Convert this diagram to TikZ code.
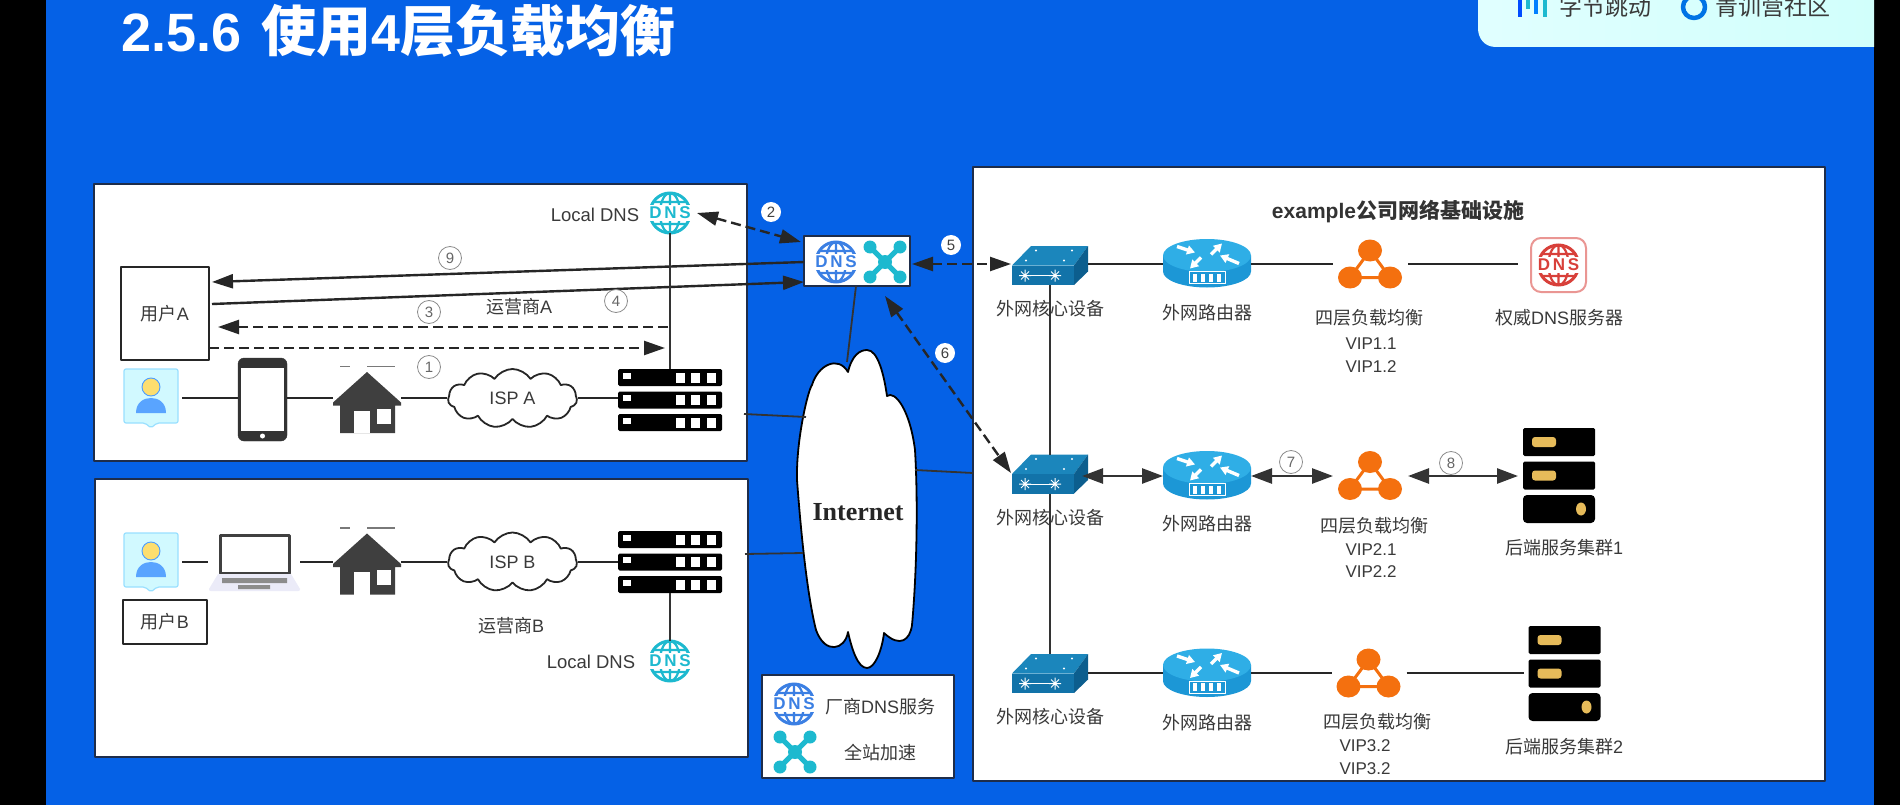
\documentclass[tikz,border=0pt]{standalone}
\usepackage{fontspec}
\setmainfont{Liberation Sans}
\newfontfamily\cjk{Noto Sans CJK SC}
\newfontfamily\serifb{Liberation Serif}
\usetikzlibrary{arrows.meta,shapes.symbols}
\newcommand\cn[1]{{\cjk #1}}
\definecolor{bgblue}{HTML}{0561E6}
\definecolor{frameC}{HTML}{1E2D4A}
\definecolor{labC}{HTML}{3A3A3A}
\definecolor{tealC}{HTML}{1DB9CF}
\definecolor{dnsB}{HTML}{3B7FE3}
\definecolor{redC}{HTML}{D8403A}
\definecolor{orgC}{HTML}{F4700F}
\definecolor{swA}{HTML}{1B86BC}
\definecolor{swB}{HTML}{1273A9}
\definecolor{swC}{HTML}{0C5E8E}
\definecolor{rtA}{HTML}{2FAEE6}
\definecolor{rtB}{HTML}{1C97D6}
\definecolor{houseC}{HTML}{3F3F3F}
\definecolor{pillC}{HTML}{E6BB5A}
\tikzset{
  panel/.style={draw=frameC,line width=2pt,fill=white},
  anch/.style={rectangle,inner sep=0pt,outer sep=0pt},
  lab/.style={text=labC,inner sep=0pt,font=\fontsize{18}{20}\selectfont},
  vip/.style={text=labC,inner sep=0pt,font=\fontsize{17}{20}\selectfont},
  num/.style={circle,draw=black!45,line width=0.8pt,fill=white,inner sep=0pt,minimum size=23pt,text=black!60,font=\fontsize{15}{16}\selectfont},
  numw/.style={circle,fill=white,inner sep=0pt,minimum size=20pt,text=black!75,font=\fontsize{15}{16}\selectfont},
  ubox/.style={draw=black!85,line width=2pt,fill=white,anch,text=labC,font=\fontsize{18}{20}\selectfont},
  link/.style={draw=black!85,line width=2.6pt},
  thin link/.style={draw=black!80,line width=1.8pt},
  dbl/.style={link,{Triangle[length=21pt,width=15pt]}-{Triangle[length=21pt,width=15pt]},draw=black!80},
  arr/.style={draw=black!85,line width=2.4pt,-{Triangle[length=21pt,width=14pt]}},
  darr/.style={draw=black!85,line width=2.4pt,dash pattern=on 10pt off 5pt,-{Triangle[length=21pt,width=14pt]}},
  ddbl/.style={draw=black!85,line width=2.4pt,dash pattern=on 10pt off 5pt,{Triangle[length=21pt,width=14pt]}-{Triangle[length=21pt,width=14pt]}},
}
% switch
\newcommand\swicon[3]{%
  \node[anch,minimum width=76,minimum height=39] (#1) at (#2,#3) {};
  \begin{scope}[shift={(#2,#3)}]
    \fill[swA] (-19,-19.5) -- (38,-19.5) -- (24,0) -- (-38,0) -- cycle;
    \fill[swB] (-38,0) rectangle (24,19.5);
    \fill[swC] (24,0) -- (38,-19.5) -- (38,6) -- (24,19.5) -- cycle;
    \foreach \p in {(-14,-15),(22,-15),(-24,-5),(14,-5)} \fill[white] \p circle (1.2);
    \foreach \p in {(-25,10),(5,10)} {
      \draw[white,line width=1pt] \p ++(-6,0) -- ++(12,0) \p ++(0,-6) -- ++(0,12) \p ++(-4,-4) -- ++(8,8) \p ++(-4,4) -- ++(8,-8);
    }
    \draw[white,line width=0.9pt] (-25,10) -- (5,10);
  \end{scope}}
% router
\newcommand\rticon[3]{%
  \node[anch,minimum width=88,minimum height=49] (#1) at (#2,#3) {};
  \begin{scope}[shift={(#2,#3)}]
    \fill[rtB] (-44,-8) -- (-44,8) arc[start angle=180,end angle=360,x radius=44,y radius=-16] -- (44,-8) -- cycle;
    \fill[rtA] (0,-8) ellipse [x radius=44,y radius=16.5];
    \draw[white,line width=3.4pt,-{Triangle[length=8pt,width=9pt]}] (-30,-17) -- (-12,-11);
    \draw[white,line width=3.4pt,-{Triangle[length=8pt,width=9pt]}] (4,-9) -- (15,-20);
    \draw[white,line width=3.4pt,-{Triangle[length=8pt,width=9pt]}] (32,0) -- (13,-8);
    \draw[white,line width=3.4pt,-{Triangle[length=8pt,width=9pt]}] (-6,-6) -- (-17,5);
    \draw[white,line width=0.7pt] (-18,8) rectangle (18,20);
    \foreach \q in {-14,-6,2,10}{\fill[white] (\q,10) rectangle (\q+4,18);}
  \end{scope}}
% load balancer
\newcommand\lbicon[3]{%
  \node[anch,minimum width=64,minimum height=49] (#1) at (#2,#3) {};
  \begin{scope}[shift={(#2,#3)}]
    \draw[orgC,line width=3pt] (0,-14) -- (-20,13) -- (20,13) -- cycle;
    \fill[orgC] (0,-14) ellipse [x radius=12,y radius=11] (-20,13) ellipse [x radius=12,y radius=11] (20,13) ellipse [x radius=12,y radius=11];
  \end{scope}}
% globe
\newcommand\globe[5]{% name,x,y,colour,band-fill
  \begin{scope}[shift={(#2,#3)}]
    \draw[#4,line width=3pt] (0,0) circle [x radius=20,y radius=20];
    \draw[#4,line width=2.2pt] (0,-20) -- (0,20) (0,0) ellipse [x radius=10,y radius=20] (-17,-11) -- (17,-11) (-17,11) -- (17,11);
    \fill[#5] (-23,-8) rectangle (23,8);
  \end{scope}
  \node[anch,text=#4,minimum width=44,minimum height=40,font=\bfseries\fontsize{17}{17}\selectfont] (#1) at (#2,#3) {\addfontfeatures{LetterSpace=16}DNS};}
% X accel
\newcommand\xicon[3]{%
  \node[anch,minimum width=42,minimum height=42] (#1) at (#2,#3) {};
  \begin{scope}[shift={(#2,#3)}]
    \draw[tealC,line width=5pt] (-15,-15) -- (15,15) (-15,15) -- (15,-15);
    \fill[tealC] (-15,-15) circle (6.5) (15,-15) circle (6.5) (-15,15) circle (6.5) (15,15) circle (6.5) (0,0) circle (7);
  \end{scope}}
% rack
\newcommand\rack[3]{%
  \node[anch,minimum width=104,minimum height=62] (#1) at (#2,#3) {};
  \begin{scope}[shift={(#2,#3)}]
    \foreach \dy in {-22.5,0,22.5}{
      \fill[black,rounded corners=1.5pt] (-52,\dy-8.5) rectangle (52,\dy+8.5);
      \fill[white] (-47,\dy-5) rectangle (-39,\dy+1);
      \foreach \dx in {6,21,37}{\fill[white] (\dx,\dy-5) rectangle (\dx+9,\dy+5);}
    }
  \end{scope}}
% cluster
\newcommand\cluster[3]{%
  \node[anch,minimum width=72,minimum height=95] (#1) at (#2,#3) {};
  \begin{scope}[shift={(#2,#3)}]
    \foreach \dy in {-33.5,0}{
      \fill[black,rounded corners=1.5pt] (-36,\dy-14) rectangle (36,\dy+14);
      \fill[pillC,rounded corners=3pt] (-27,\dy-5) rectangle (-3,\dy+5);
    }
    \fill[black,rounded corners=4pt] (-36,19.5) rectangle (36,47.5);
    \fill[pillC] (22,33.5) ellipse [x radius=5,y radius=6.5];
  \end{scope}}
% user
\newcommand\usericon[3]{%
  \node[anch,minimum width=54,minimum height=54] (#1) at (#2,#3) {};
  \begin{scope}[shift={(#2,#3)}]
    \draw[draw=blue!30!cyan!40!white,fill=blue!12!cyan!18!white,line width=1.2pt,rounded corners=2pt] (-27,-27) -- (27,-27) -- (27,27) -- (6,27) -- (0,32) -- (-6,27) -- (-27,27) -- cycle;
    \draw[blue!55!cyan!70!white,fill=yellow!60!orange!55!white,line width=0.9pt] (0,-9) circle [radius=9];
    \fill[blue!55!cyan!65!white] (-15,17) .. controls (-15,6) and (-7,2) .. (0,2) .. controls (7,2) and (15,6) .. (15,17) -- cycle;
  \end{scope}}
% house
\newcommand\house[3]{%
  \node[anch,minimum width=68,minimum height=61] (#1) at (#2,#3) {};
  \begin{scope}[shift={(#2,#3)}]
    \fill[houseC] (0,-30.5) -- (34,0) -- (34,3) -- (28,3) -- (28,30.5) -- (-27,30.5) -- (-27,3) -- (-34,3) -- (-34,0) -- cycle;
    \fill[white] (-13,8) rectangle (3,30.5);
    \fill[white] (10,6) rectangle (24,21);
    \draw[houseC!70,line width=1.3pt] (-27,-36) -- (-17,-36) (0,-36) -- (28,-36);
  \end{scope}}
\begin{document}
\begin{tikzpicture}[x=1pt,y=-1pt,line join=round]
\useasboundingbox (0,0) rectangle (1900,805);
\fill[black] (0,0) rectangle (1900,805);
\fill[bgblue] (46,0) rectangle (1874,805);
% logo panel
\shade[left color=white!88!cyan,right color=green!8!cyan!18!white] (1478,-20) -- (1874,-20) -- (1874,47) -- (1496,47) .. controls (1484,47) and (1478,38) .. (1478,28) -- cycle;
\foreach \bx/\bh/\bc in {1518/17/blue!70!cyan,1526/9/tealC,1534/14/blue!50!cyan,1543/17/tealC}{\fill[\bc] (\bx,-2) rectangle (\bx+4,\bh);}
\draw[blue!50!cyan!90!black,line width=4.5pt] (1694,7) circle [x radius=11,y radius=11];
\node[anch,text=labC,font=\fontsize{23}{24}\selectfont] (logoa) at (1605,7) {\cn{字节跳动}};
\node[anch,text=labC,font=\fontsize{23}{24}\selectfont] (logob) at (1773,7) {\cn{青训营社区}};
% title
\node[anch,anchor=base west,text=white,font=\bfseries\fontsize{54}{60}\selectfont] (title) at (121,52) {2.5.6\hspace{20pt}{\cjk\fontsize{55}{60}\selectfont 使用}{\fontsize{52}{60}\selectfont 4}{\cjk\fontsize{55}{60}\selectfont 层负载均衡}};
% panels
\node[panel,anch,minimum width=653,minimum height=277] (boxA) at (420.5,322.5) {};
\node[panel,anch,minimum width=653,minimum height=278] (boxB) at (421.5,618) {};
\node[panel,anch,minimum width=852,minimum height=614] (boxR) at (1399,474) {};
\node[panel,anch,line width=1.6pt,minimum width=192,minimum height=103] (legend) at (858,726.5) {};
\node[panel,anch,line width=2pt,minimum width=106,minimum height=50] (edge) at (857,261) {};
% user A row
\node[ubox,minimum width=88,minimum height=93] (userA) at (165,313.5) {\cn{用户}A};
\globe{dnsA}{670}{213}{tealC}{white}
\node[lab,font=\fontsize{18.5}{20}\selectfont] (ldnsA) at (595,215) {Local DNS};
\usericon{uA}{151}{396}
\node[anch,minimum width=49,minimum height=83] (phone) at (262.5,399.5) {};
\draw[black!80,fill=black!80,rounded corners=6pt] (238,358) rectangle (287,441);
\fill[white] (241,368) rectangle (284,431);
\fill[white] (262.5,436) circle (2.5);
\house{hA}{367}{402.5}
\node[cloud,cloud puffs=11,cloud puff arc=115,aspect=2.2,draw=black!85,line width=1.8pt,fill=white,inner sep=0pt,minimum width=129,minimum height=59,text=labC,font=\fontsize{18}{20}\selectfont] (ispA) at (512.5,398.5) {ISP A};
\rack{srvA}{670}{400}
\node[lab] (opA) at (519,307) {\cn{运营商}A};
% user B row
\usericon{uB}{151}{560}
\node[anch,minimum width=91,minimum height=58] (laptop) at (254.5,562) {};
\draw[black!75,fill=white,line width=3pt] (220,535) rectangle (289,573);
\fill[black!32!blue!8!white] (218,574) -- (291,574) -- (300,589) .. controls (300,591) and (299,591) .. (298,591) -- (211,591) .. controls (210,591) and (209,591) .. (209,589) -- cycle;
\fill[black!45] (222,578) rectangle (287,583) (238,585) rectangle (270,589);
\house{hB}{367}{564}
\node[cloud,cloud puffs=11,cloud puff arc=115,aspect=2.2,draw=black!85,line width=1.8pt,fill=white,inner sep=0pt,minimum width=129,minimum height=59,text=labC,font=\fontsize{18}{20}\selectfont] (ispB) at (512.5,562) {ISP B};
\rack{srvB}{670}{562}
\node[ubox,minimum width=84,minimum height=44] (userB) at (165,622) {\cn{用户}B};
\node[lab] (opB) at (511,626) {\cn{运营商}B};
\globe{dnsB}{670}{661}{tealC}{white}
\node[lab,font=\fontsize{18.5}{20}\selectfont] (ldnsB) at (591,662) {Local DNS};
% edge box
\globe{edgeD}{836}{262}{dnsB}{white}
\xicon{edgeX}{885}{262}
% internet cloud
\draw[black,line width=1.8pt,fill=white] (848,372) .. controls (852,355) and (860,350) .. (867,350)
 .. controls (878,350) and (884,375) .. (887,396)
 .. controls (895,390) and (910,410) .. (915,450)
 .. controls (918,500) and (917,570) .. (912,625)
 .. controls (910,640) and (900,648) .. (884,633)
 .. controls (882,650) and (875,668) .. (867,668)
 .. controls (858,668) and (852,650) .. (848,632)
 .. controls (845,650) and (825,655) .. (816,630)
 .. controls (806,590) and (800,520) .. (797,480)
 .. controls (796,440) and (808,390) .. (812,385)
 .. controls (818,365) and (838,355) .. (848,372) -- cycle;
\node[anch,text=black!85,font=\serifb\bfseries\fontsize{26}{27}\selectfont] (inet) at (858,512) {Internet};
% legend
\globe{legD}{794}{704}{dnsB}{white}
\node[lab] (legDt) at (880,707) {\cn{厂商}DNS\cn{服务}};
\xicon{legX}{795}{752}
\node[lab] (legXt) at (880,753) {\cn{全站加速}};
% right panel
\node[anch,text=black!80,font=\bfseries\fontsize{21}{22}\selectfont] (rtitle) at (1398,212) {example\cn{公司网络基础设施}};
\swicon{sw1}{1050}{265.5}
\swicon{sw2}{1050}{474}
\swicon{sw3}{1050}{673.5}
\rticon{rt1}{1207}{263.5}
\rticon{rt2}{1207}{475.5}
\rticon{rt3}{1207}{673}
\lbicon{lb1}{1370}{264.5}
\lbicon{lb2}{1370}{476}
\lbicon{lb3}{1368.5}{673.5}
\begin{scope}[shift={(1558.5,265)}]
  \draw[redC!55,line width=2pt,fill=white,rounded corners=10pt] (-27.5,-27) rectangle (27.5,27);
\end{scope}
\globe{dnsR}{1558.5}{265}{redC}{white}
\node[anch,minimum width=55,minimum height=54] (authD) at (1558.5,265) {};
\cluster{cl1}{1559}{475.5}
\cluster{cl2}{1564.5}{673.5}
% right labels
\node[lab] (t1a) at (1050,309) {\cn{外网核心设备}};
\node[lab] (t2a) at (1050,518) {\cn{外网核心设备}};
\node[lab] (t3a) at (1050,717) {\cn{外网核心设备}};
\node[lab] (t1b) at (1207,313) {\cn{外网路由器}};
\node[lab] (t2b) at (1207,524) {\cn{外网路由器}};
\node[lab] (t3b) at (1207,723) {\cn{外网路由器}};
\node[lab] (t1c) at (1369,318) {\cn{四层负载均衡}};
\node[vip] (v11) at (1371,344) {VIP1.1};
\node[vip] (v12) at (1371,367) {VIP1.2};
\node[lab] (t2c) at (1374,526) {\cn{四层负载均衡}};
\node[vip] (v21) at (1371,550) {VIP2.1};
\node[vip] (v22) at (1371,572) {VIP2.2};
\node[lab] (t3c) at (1377,722) {\cn{四层负载均衡}};
\node[vip] (v31) at (1365,746) {VIP3.2};
\node[vip] (v32) at (1365,769) {VIP3.2};
\node[lab] (t1d) at (1559,318) {\cn{权威}DNS\cn{服务器}};
\node[lab] (t2d) at (1564,548) {\cn{后端服务集群}1};
\node[lab] (t3d) at (1564,747) {\cn{后端服务集群}2};
% free connector ends
\coordinate (a9s) at (804,262);
\coordinate (a9e) at (212,282);
\coordinate (a0s) at (212,304);
\coordinate (a0e) at (804,282);
\coordinate (a3s) at (668,327);
\coordinate (a3e) at (218,327);
\coordinate (a1s) at (209,348);
\coordinate (a1e) at (665,348);
\coordinate (a2s) at (697,213);
\coordinate (a2e) at (801,242);
\coordinate (a5s) at (912,264);
\coordinate (a5e) at (1011,264);
\coordinate (a6s) at (885,296);
\coordinate (a6e) at (1011,473);
\coordinate (ce1) at (856,286);
\coordinate (ce2) at (847,362);
\coordinate (clA1) at (744,414);
\coordinate (clA2) at (806,417);
\coordinate (clB1) at (745,554);
\coordinate (clB2) at (803,553);
\coordinate (clR1) at (915,470);
\coordinate (clR2) at (973,473);
\coordinate (rowA) at (0,398);
\coordinate (rowB) at (0,562);
\coordinate (row1) at (0,264);
\coordinate (row2) at (0,476);
\coordinate (row3) at (0,673);
% connectors
\draw[arr] (a9s) -- (a9e);
\draw[arr] (a0s) -- (a0e);
\draw[darr] (a3s) -- (a3e);
\draw[darr] (a1s) -- (a1e);
\draw[ddbl] (a2s) -- (a2e);
\draw[ddbl] (a5s) -- (a5e);
\draw[ddbl] (a6s) -- (a6e);
\draw[thin link] (dnsA.south) -- (srvA.north);
\draw[thin link] (srvB.south) -- (dnsB.north);
\draw[thin link] (ce1) -- (ce2);
\draw[thin link] (clA1) -- (clA2);
\draw[thin link] (clB1) -- (clB2);
\draw[thin link] (clR1) -- (clR2);
\draw[link] ([xshift=4pt]uA.east|-rowA) -- (phone.west|-rowA);
\draw[link] (phone.east|-rowA) -- (hA.west|-rowA);
\draw[link] (hA.east|-rowA) -- (ispA.west|-rowA);
\draw[link] (ispA.east|-rowA) -- (srvA.west|-rowA);
\draw[link] ([xshift=4pt]uB.east|-rowB) -- ([xshift=-1pt]laptop.west|-rowB);
\draw[link] (laptop.east|-rowB) -- (hB.west|-rowB);
\draw[link] (hB.east|-rowB) -- (ispB.west|-rowB);
\draw[link] (ispB.east|-rowB) -- (srvB.west|-rowB);
\draw[thin link] (sw1.south) -- (sw2.north);
\draw[thin link] (sw2.south) -- (sw3.north);
\draw[link] (sw1.east|-row1) -- (rt1.west|-row1);
\draw[link] (rt1.east|-row1) -- ([xshift=-5pt]lb1.west|-row1);
\draw[link] ([xshift=6pt]lb1.east|-row1) -- ([xshift=-13pt]authD.west|-row1);
\draw[dbl] ([xshift=-6pt]sw2.east|-row2) -- (rt2.west|-row2);
\draw[dbl] (rt2.east|-row2) -- ([xshift=-5pt]lb2.west|-row2);
\draw[dbl] ([xshift=6pt]lb2.east|-row2) -- ([xshift=-5pt]cl1.west|-row2);
\draw[link] (sw3.east|-row3) -- (rt3.west|-row3);
\draw[link] (rt3.east|-row3) -- ([xshift=-5pt]lb3.west|-row3);
\draw[link] ([xshift=6pt]lb3.east|-row3) -- ([xshift=-5pt]cl2.west|-row3);
% step numbers
\node[num] (n9) at (450,258) {9};
\node[num] (n4) at (616,301) {4};
\node[num] (n3) at (429,312) {3};
\node[num] (n1) at (429,367) {1};
\node[numw] (n2) at (771,212) {2};
\node[numw] (n5) at (951,245) {5};
\node[numw] (n6) at (945,353) {6};
\node[num] (n7) at (1291,462) {7};
\node[num] (n8) at (1451,463) {8};
\end{tikzpicture}
\end{document}
